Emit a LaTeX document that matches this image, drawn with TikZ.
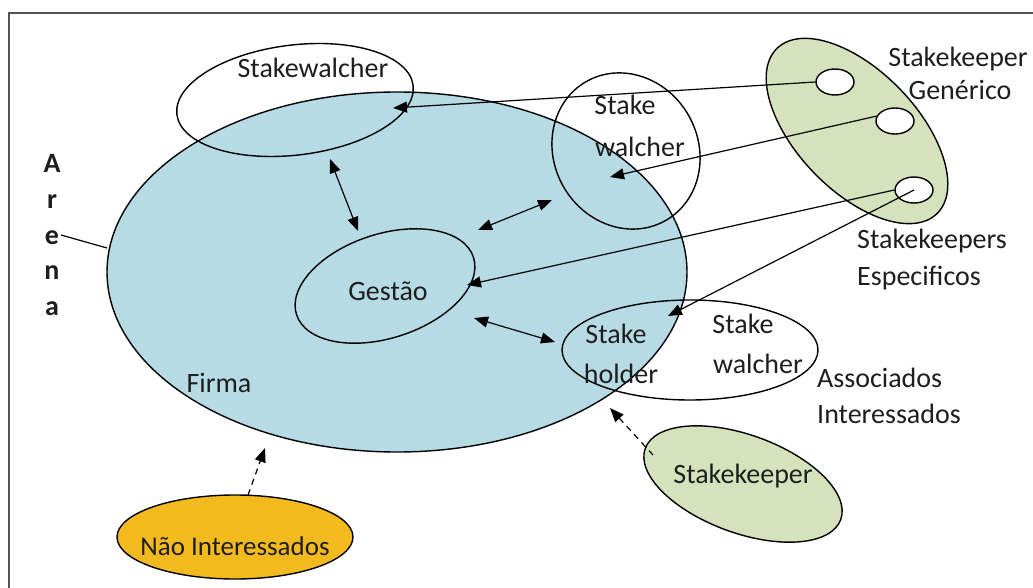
\documentclass[tikz,border=0pt]{standalone}
\usepackage{fontspec}
\setmainfont{Carlito}
\usetikzlibrary{shapes.geometric,arrows.meta}
\definecolor{firmablue}{RGB}{182,219,229}
\definecolor{keepgreen}{RGB}{214,226,188}
\definecolor{naogold}{RGB}{242,186,30}
\definecolor{framegray}{RGB}{85,85,85}
\definecolor{txtgray}{RGB}{30,30,30}
\begin{document}
\begin{tikzpicture}[x=1pt,y=-1pt,
  lbl/.style={font=\fontsize{28}{34}\selectfont, text=txtgray, inner sep=0pt, anchor=base},
  arenalbl/.style={font=\fontsize{28}{34}\selectfont\bfseries, text=txtgray, inner sep=0pt, anchor=base},
  oval/.style={ellipse, draw, line width=1.4pt, inner sep=0pt},
  hole/.style={ellipse, draw, fill=white, line width=1.4pt, inner sep=0pt, minimum width=38pt, minimum height=26pt},
  arr/.style={-{Triangle[length=14pt,width=11pt]}, line width=1.2pt},
  dbl/.style={{Triangle[length=14pt,width=11pt]}-{Triangle[length=14pt,width=11pt]}, line width=1.2pt},
  darr/.style={-{Triangle[length=14pt,width=11pt]}, line width=1.2pt, dash pattern=on 6pt off 5pt}]
\useasboundingbox (0,0) rectangle (1033,588);
% frame
\draw[framegray, line width=1.8pt] (1033,13) -- (9,13) -- (9,588);
% Firma
\node[oval, fill=firmablue, minimum width=580pt, minimum height=360pt] (firma) at (397,272) {};
% Stakewalcher top-left
\node[oval, minimum width=238pt, minimum height=110pt, rotate=7] (sw) at (295,100) {};
% Stake walcher circle
\node[oval, minimum width=144pt, minimum height=160pt, rotate=30] (swr) at (626,151) {};
% Gestao
\node[oval, minimum width=186pt, minimum height=104pt, rotate=18] (gestao) at (385,286) {};
% Stakeholder / Stakewalcher
\node[oval, minimum width=256pt, minimum height=100pt] (sh) at (690,350) {};
% green group
\node[oval, fill=keepgreen, minimum width=230pt, minimum height=120pt, rotate=-46] (grp) at (857,131) {};
\node[hole] (c1) at (835,82) {};
\node[hole] (c2) at (895,121) {};
\node[hole] (c3) at (914,190) {};
% Stakekeeper bottom
\node[oval, fill=keepgreen, minimum width=208pt, minimum height=98pt, rotate=-20] (sk) at (743,484) {};
% Nao Interessados
\node[oval, fill=naogold, minimum width=236pt, minimum height=84pt] (nao) at (235,537) {};

% labels
\node[lbl] (tsw) at (313,78) {Stakewalcher};
\node[lbl] (tswr1) at (625,115) {Stake};
\node[lbl] (tswr2) at (640,157) {walcher};
\node[lbl] (tg) at (388,300) {Gestão};
\node[lbl] (tsh1) at (616,343) {Stake};
\node[lbl] (tsh2) at (621,383) {holder};
\node[lbl] (tsw3) at (743,333) {Stake};
\node[lbl] (tsw4) at (758,373) {walcher};
\node[lbl] (tgen1) at (958,67) {Stakekeeper};
\node[lbl] (tgen2) at (960,100) {Genérico};
\node[lbl, anchor=base west] (tesp1) at (857,248) {Stakekeepers};
\node[lbl, anchor=base west] (tesp2) at (857,285) {Especificos};
\node[lbl, anchor=base west] (tass1) at (817,387) {Associados};
\node[lbl, anchor=base west] (tass2) at (817,423) {Interessados};
\node[lbl] (tsk) at (743,483) {Stakekeeper};
\node[lbl, font=\fontsize{27}{32}\selectfont] (tnao) at (235,555) {Não Interessados};
\node[lbl] (tfirma) at (219,392) {Firma};
\node[arenalbl] (aA) at (52,173) {A};
\node[arenalbl] (aR) at (52,209) {r};
\node[arenalbl] (aE) at (52,244) {e};
\node[arenalbl] (aN) at (52,279) {n};
\node[arenalbl] (aA2) at (52,315) {a};

% connector end points
\coordinate (arenaStart) at (61,235);
\coordinate (arenaEnd) at (107,248);
\coordinate (swIn) at (393,108);
\coordinate (swrIn) at (610,177);
\coordinate (gIn) at (467,285);
\coordinate (shIn) at (668,316);
\coordinate (dA1) at (330,159);
\coordinate (dA2) at (358,231);
\coordinate (dB1) at (478,230);
\coordinate (dB2) at (552,200);
\coordinate (dC1) at (474,318);
\coordinate (dC2) at (555,342);
\coordinate (skOut) at (653,455);
\coordinate (skTip) at (610,408);
\coordinate (naoOut) at (248,495);
\coordinate (naoTip) at (265,448);

% connectors
\draw[line width=1.2pt] (arenaStart) -- (arenaEnd);
\draw[arr] (c1.west) -- (swIn);
\draw[arr] (c2.165) -- (swrIn);
\draw[arr] (c3.west) -- (gIn);
\draw[arr] (c3.center) -- (shIn);
\draw[dbl] (dA1) -- (dA2);
\draw[dbl] (dB1) -- (dB2);
\draw[dbl] (dC1) -- (dC2);
\draw[darr] (skOut) -- (skTip);
\draw[darr] (naoOut) -- (naoTip);
\end{tikzpicture}
\end{document}
